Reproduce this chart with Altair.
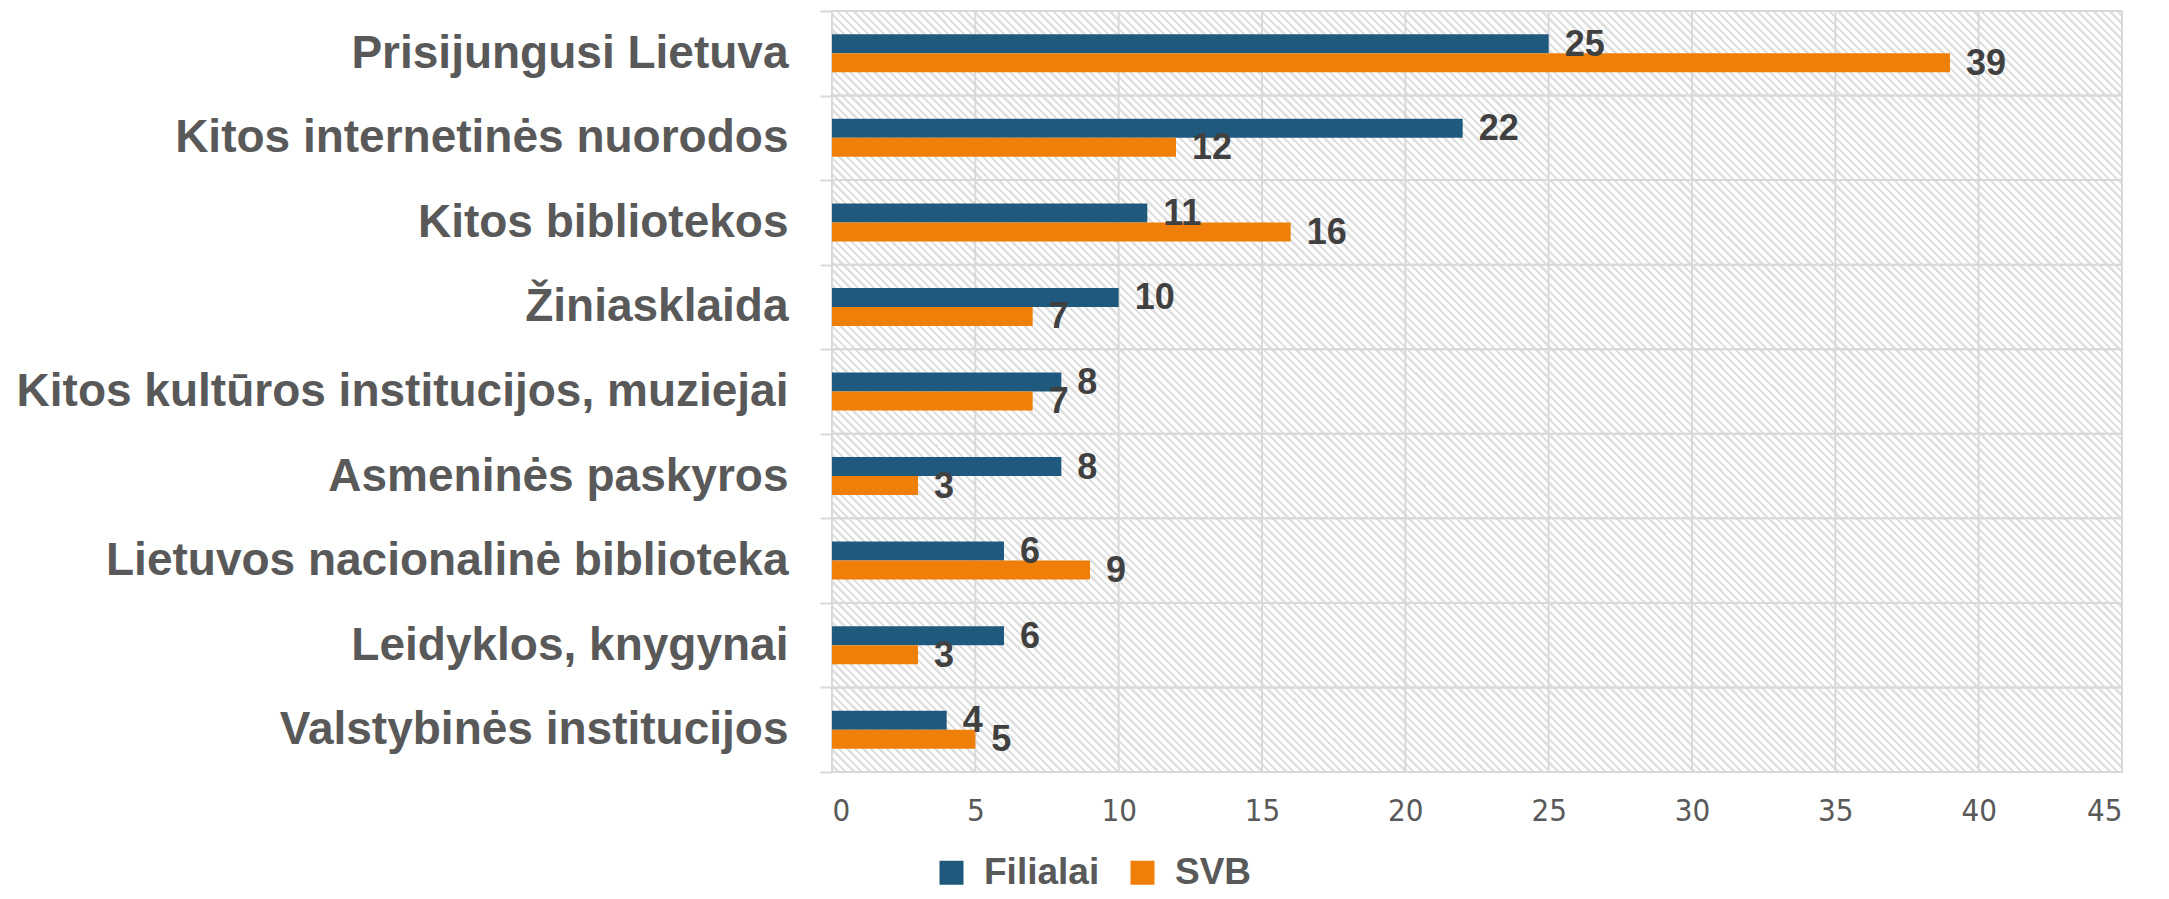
import altair as alt
import pandas as pd

categories = [
    "Prisijungusi Lietuva",
    "Kitos internetinės nuorodos",
    "Kitos bibliotekos",
    "Žiniasklaida",
    "Kitos kultūros institucijos, muziejai",
    "Asmeninės paskyros",
    "Lietuvos nacionalinė biblioteka",
    "Leidyklos, knygynai",
    "Valstybinės institucijos",
]
filialai = [25, 22, 11, 10, 8, 8, 6, 6, 4]
svb = [39, 12, 16, 7, 7, 3, 9, 3, 5]
series = ["Filialai", "SVB"]
colors = ["#1F5A7E", "#F07F0A"]
x_ticks = [0, 5, 10, 15, 20, 25, 30, 35, 40, 45]

rows = []
for c, f, s in zip(categories, filialai, svb):
    rows.append({"cat": c, "series": "Filialai", "value": f})
    rows.append({"cat": c, "series": "SVB", "value": s})
df = pd.DataFrame(rows)
cat_df = pd.DataFrame({"cat": categories})
tick_df = pd.DataFrame({"value": x_ticks})

W, H = 1290, 761
band = H / len(categories)
bar_h = 19
off_range = [band / 2 - bar_h, band / 2 + bar_h]
GRID = "#d9d9d9"

# diagonal hatch background built as a striped linear gradient
r = H / W
k = (1 + r) / (1 + r * r)
gx1, gy1 = 0.0, 1.0
gx2, gy2 = k, 1 - k * r
length_px = (W + H) / 2 ** 0.5
period = (8 / 2 ** 0.5) / length_px
gray_frac = 0.4
stops = []
o = 0.0
while o < 1.0:
    a = min(o + (1 - gray_frac) * period, 1.0)
    b = min(o + period, 1.0)
    stops.append(alt.GradientStop(color="#ffffff", offset=round(o, 6)))
    stops.append(alt.GradientStop(color="#ffffff", offset=round(a, 6)))
    stops.append(alt.GradientStop(color="#e0e0e0", offset=round(a, 6)))
    stops.append(alt.GradientStop(color="#e0e0e0", offset=round(b, 6)))
    o += period
hatch = alt.LinearGradient(gradient="linear", stops=stops, x1=gx1, y1=gy1, x2=gx2, y2=gy2)

x_scale = alt.Scale(domain=[0, 45], nice=False)
y_scale = alt.Scale(paddingInner=0, paddingOuter=0)

y_enc = alt.Y(
    "cat:N",
    sort=categories,
    scale=y_scale,
    axis=alt.Axis(
        title=None,
        labelFont="Liberation Sans",
        labelFontSize=46,
        labelFontWeight="bold",
        labelColor="#595959",
        labelPadding=32,
        labelLimit=2000,
        tickBand="extent",
        tickSize=12,
        tickColor=GRID,
        tickWidth=2,
        domain=False,
        grid=False,
    ),
)
x_enc = alt.X(
    "value:Q",
    scale=x_scale,
    axis=alt.Axis(
        title=None,
        values=x_ticks,
        labelFont="Liberation Sans Narrow, DejaVu Sans Condensed, Liberation Sans",
        labelFontSize=31,
        labelColor="#595959",
        labelPadding=24,
        ticks=False,
        domain=False,
        grid=False,
    ),
)

background = alt.Chart(cat_df.head(1)).mark_rect(color=hatch, strokeWidth=0).encode(
    x=alt.XDatum(0, scale=x_scale),
    x2=alt.X2Datum(45),
)

vgrid = alt.Chart(tick_df).mark_rule(color=GRID, strokeWidth=2).encode(x=x_enc)

hgrid = alt.Chart(cat_df).mark_rect(fill=None, fillOpacity=0, stroke=GRID, strokeWidth=2).encode(
    y=y_enc,
    x=alt.XDatum(0, scale=x_scale),
    x2=alt.X2Datum(45),
)

yoff = alt.YOffset("series:N", sort=series,
                   scale=alt.Scale(paddingInner=0, paddingOuter=0, range=off_range))

bars = alt.Chart(df).mark_bar(strokeWidth=0).encode(
    x=x_enc,
    y=y_enc,
    yOffset=yoff,
    color=alt.Color(
        "series:N",
        scale=alt.Scale(domain=series, range=colors),
        legend=alt.Legend(
            title=None,
            orient="none",
            legendX=101,
            legendY=843,
            direction="horizontal",
            symbolType="square",
            symbolSize=576,
            symbolStrokeWidth=0,
            symbolOpacity=1,
            labelFont="Liberation Sans",
            labelFontSize=37,
            labelFontWeight="bold",
            labelColor="#595959",
            labelOffset=14,
            columnPadding=24,
            padding=0,
        ),
    ),
)

labels = alt.Chart(df).mark_text(
    align="left",
    baseline="middle",
    dx=16,
    dy=1,
    font="Liberation Sans",
    fontSize=36,
    fontWeight="bold",
    color="#404040",
).encode(
    x=x_enc,
    y=y_enc,
    yOffset=yoff,
    text=alt.Text("value:Q"),
)

chart = (
    alt.layer(background, vgrid, hgrid, bars, labels)
    .properties(
        width=W,
        height=H,
        autosize=alt.AutoSizeParams(type="none"),
        padding={"left": 824, "top": 3, "right": 39, "bottom": 119},
    )
    .configure_view(stroke=None)
    .configure(background="#ffffff")
)

chart.save("out.html", embed_options={"renderer": "svg", "actions": False})
